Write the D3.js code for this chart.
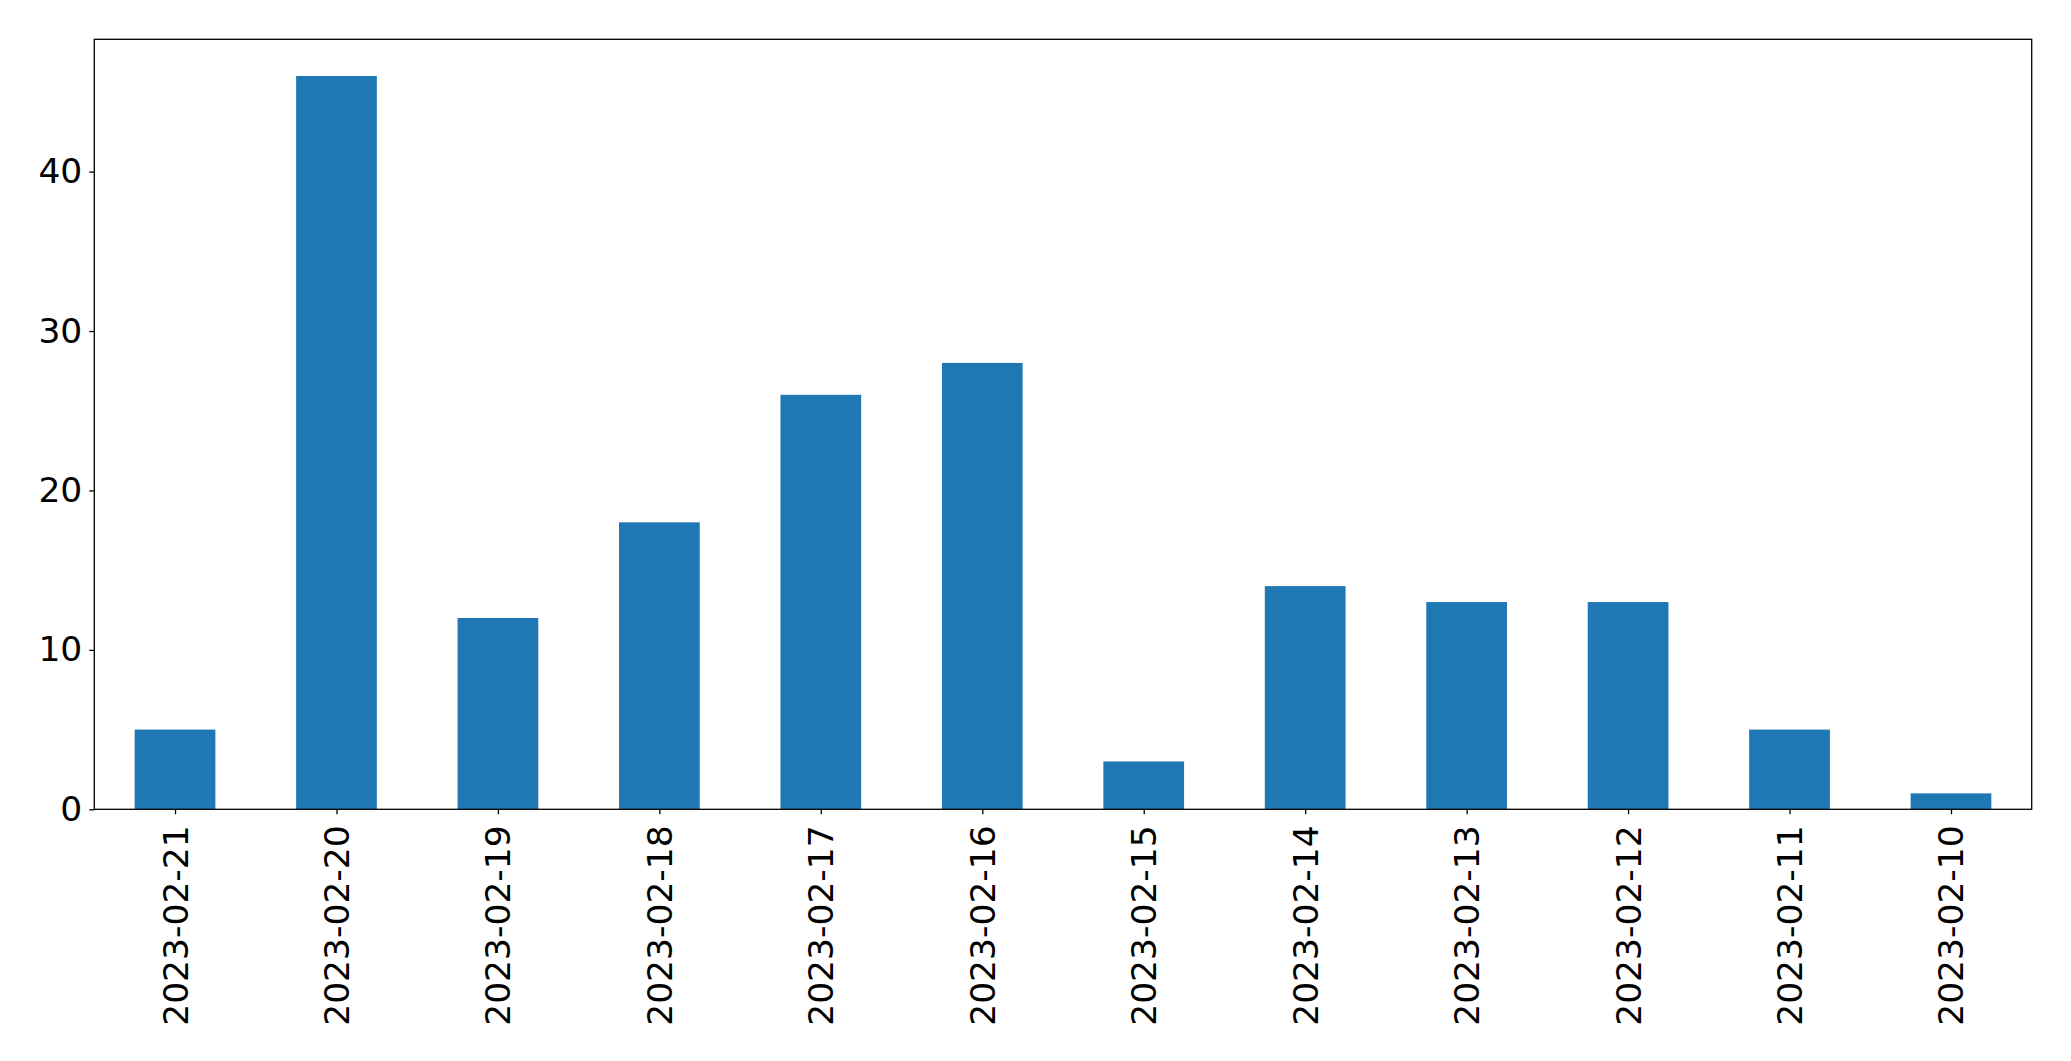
<!DOCTYPE html>
<html>
<head>
<meta charset="utf-8">
<script src="https://cdn.jsdelivr.net/npm/d3@7"></script>
<style>
html,body{margin:0;padding:0;background:#fff;}
svg{display:block;}
</style>
</head>
<body>
<svg id="chart" width="2071" height="1061"></svg>
<script>
const categories = ["2023-02-21","2023-02-20","2023-02-19","2023-02-18","2023-02-17","2023-02-16","2023-02-15","2023-02-14","2023-02-13","2023-02-12","2023-02-11","2023-02-10"];
const values = [5, 46, 12, 18, 26, 28, 3, 14, 13, 13, 5, 1];
const yTicks = [0, 10, 20, 30, 40];

const W = 2071, H = 1061;
const margin = {left: 94.3, right: 2071 - 2031.7, top: 39.3, bottom: H - 809.3};
const svg = d3.select("#chart");
const font = "DejaVu Sans, sans-serif";
const fs = 34.5;

const x = d3.scaleLinear().domain([-0.5, categories.length - 0.5]).range([margin.left, W - margin.right]);
const ymax = d3.max(values) * 1.05;
const y = d3.scaleLinear().domain([0, ymax]).range([H - margin.bottom, margin.top]);

const bw = x(0.5) - x(0);

svg.append("g").selectAll("rect").data(values).join("rect")
  .attr("x", (d, i) => x(i - 0.25))
  .attr("width", bw)
  .attr("y", d => y(d))
  .attr("height", d => y(0) - y(d))
  .attr("fill", "#1f77b4");

// frame
svg.append("rect")
  .attr("x", x.range()[0]).attr("y", y.range()[1])
  .attr("width", x.range()[1] - x.range()[0])
  .attr("height", y.range()[0] - y.range()[1])
  .attr("fill", "none").attr("stroke", "#000").attr("stroke-width", 1.3);

// y axis
const yAxis = svg.append("g").attr("transform", `translate(${margin.left},0)`)
  .call(d3.axisLeft(y).tickValues(yTicks).tickSize(5).tickPadding(7).tickFormat(d3.format("d")));
yAxis.select(".domain").remove();
yAxis.selectAll("line").attr("stroke", "#000").attr("stroke-width", 1.3);
yAxis.selectAll("text").attr("font-family", font).attr("font-size", fs).attr("fill", "#000");

// x axis
const xAxis = svg.append("g").attr("transform", `translate(0,${H - margin.bottom})`)
  .call(d3.axisBottom(x).tickValues(d3.range(categories.length)).tickSize(5).tickFormat(i => categories[i]));
xAxis.select(".domain").remove();
xAxis.selectAll("line").attr("stroke", "#000").attr("stroke-width", 1.3);
xAxis.selectAll("text")
  .attr("font-family", font).attr("font-size", fs).attr("fill", "#000")
  .attr("text-anchor", "end")
  .attr("dy", null)
  .attr("y", 0)
  .attr("transform", "translate(0,16) rotate(-90)")
  .attr("dominant-baseline", "central");
</script>
</body>
</html>
